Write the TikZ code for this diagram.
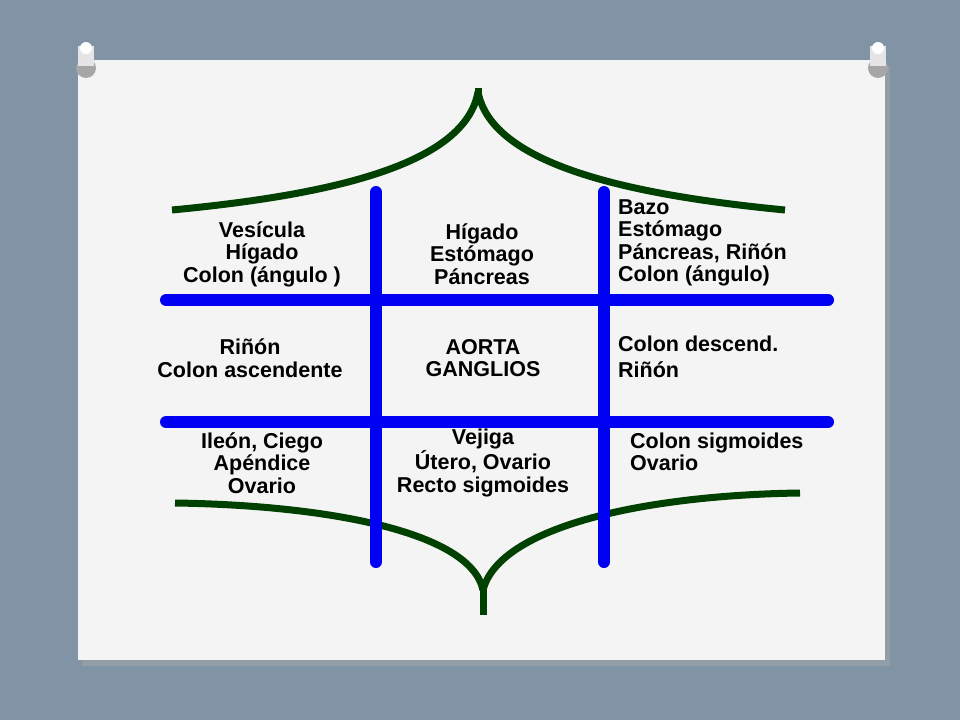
\documentclass[tikz,border=0pt]{standalone}
\usepackage{fontspec}
\setmainfont{Liberation Sans}
\begin{document}
\begin{tikzpicture}[x=1pt,y=-1pt,
  lbl/.style={font=\bfseries\fontsize{21.5}{22.5}\selectfont,align=center,inner sep=0pt},
  lbll/.style={lbl,align=left,anchor=west},
  blue/.style={line width=12pt,color=blue!95!black,line cap=round},
  green/.style={line width=7pt,color=green!25!black}]
\useasboundingbox (0,0) rectangle (960,720);
\fill[color={rgb,255:red,128;green,148;blue,166}] (0,0) rectangle (960,720);
\fill[black!35,opacity=0.5] (82,66) rectangle (890,666);
\fill[color={rgb,255:red,244;green,244;blue,244}] (78,60) rectangle (885,660);
\foreach \px in {86,878}{
  \fill[gray!70] (\px,68) circle (10);
  \fill[gray!20] (\px-8,46) rectangle (\px+8,66);
  \fill[white] (\px,48) circle (6);
}
% green curves
\draw[green] (172,210) .. controls (330,195) and (465,165) .. (478,92);
\draw[green] (478,92) .. controls (492,165) and (630,195) .. (785,210);
\draw[green] (478,88) -- (478,105);
\draw[green] (175,503) .. controls (320,505) and (470,530) .. (483,590);
\draw[green] (483,590) .. controls (500,525) and (650,495) .. (800,493);
\draw[green] (483,585) -- (483,615);
% blue lines
\draw[blue] (166,300) -- (828,300);
\draw[blue] (166,422) -- (828,422);
\draw[blue] (376,192) -- (376,562);
\draw[blue] (604,192) -- (604,562);
% texts
\node[lbl] (tl) at (262,254) {Vesícula\\Hígado\\Colon (ángulo )};
\node[lbl] (tm) at (482,254) {Hígado\\Estómago\\Páncreas};
\node[lbll] (tr) at (618,243) {Bazo\\Estómago\\Páncreas, Riñón\\Colon (ángulo)};
\node[lbl] (ml) at (250,358) {Riñón\\Colon ascendente};
\node[lbl] (mm) at (483,358) {AORTA\\GANGLIOS};
\node[lbll] (mr) at (618,357) {Colon descend.\\[3pt]Riñón};
\node[lbl] (bl) at (262,463) {Ileón, Ciego\\Apéndice\\Ovario};
\node[lbl] (bm) at (483,463) {Vejiga\\Útero, Ovario\\Recto sigmoides};
\node[lbll] (br) at (630,452) {Colon sigmoides\\Ovario};
\end{tikzpicture}
\end{document}
